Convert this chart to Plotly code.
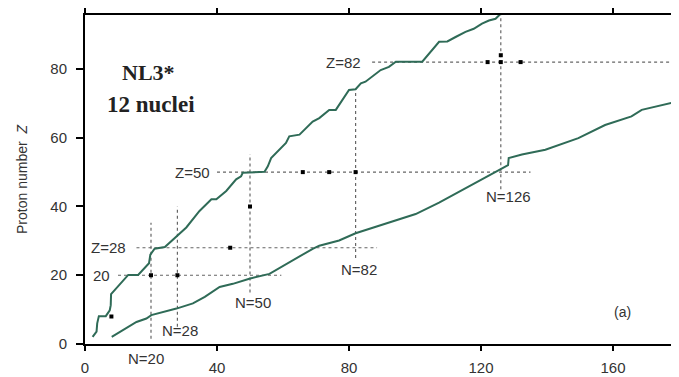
import plotly.graph_objects as go

# Upper drip line (proton side): neutron number N, proton number Z
upper_N = [2.3, 3.5, 3.7, 4.2, 6.3, 7.5, 7.8, 7.9, 13.1, 16.1, 19.4, 19.8, 21.1, 24.2, 30.7, 34.7,
           38.3, 39.8, 42.8, 45.8, 47.3, 47.8, 54.4, 55.4, 56.4, 60.9, 61.9, 65.0, 69.0, 71.0,
           74.0, 76.0, 80.0, 82.0, 83.6, 85.0, 89.6, 92.1, 94.2, 102.2, 107.3, 109.8, 112.3,
           115.3, 117.8, 120.3, 122.4, 124.4, 125.9]
upper_Z = [2.1, 3.6, 6.0, 8.1, 8.1, 9.8, 11.3, 14.5, 20.1, 20.1, 23.5, 26.0, 27.7, 28.2, 33.9, 38.7,
           42.1, 42.1, 44.5, 47.9, 48.8, 49.8, 50.1, 51.7, 54.1, 58.5, 60.4, 60.9, 64.7, 65.7,
           68.1, 68.1, 73.9, 74.1, 75.8, 76.3, 79.7, 80.6, 82.1, 82.1, 87.9, 88.0, 89.3,
           90.8, 91.7, 93.2, 94.1, 94.6, 96.0]

# Lower drip line (neutron side)
lower_N = [8.1, 15.6, 18.6, 20.1, 27.7, 32.7, 36.3, 40.8, 44.8, 49.8, 55.9, 61.9, 69.0, 71.0, 77.0,
           82.0, 100.2, 107.3, 117.3, 125.9, 127.4, 128.2, 128.4, 132.4, 139.5, 149.5, 157.6,
           165.6, 168.7, 179.2]
lower_Z = [2.1, 6.4, 7.4, 8.4, 10.3, 11.8, 13.7, 16.6, 17.5, 19.0, 20.4, 23.8, 27.7, 28.6, 30.1,
           32.2, 37.8, 41.1, 46.4, 50.8, 51.7, 52.0, 54.1, 55.1, 56.5, 59.9, 63.7,
           66.2, 68.1, 70.5]

# The 12 nuclei (N, Z)
nuc_N = [8, 20, 28, 44, 50, 66, 74, 82, 122, 126, 132, 126]
nuc_Z = [8, 20, 20, 28, 40, 50, 50, 50, 82, 82, 82, 84]

# Magic-number guide lines
vert_N = [20, 28, 50, 82, 126]
vert_Zlo = [1.5, 5, 15, 25, 45]
vert_Zhi = [35.3, 40, 55.2, 74.3, 96]
vert_labels = ["N=20", "N=28", "N=50", "N=82", "N=126"]
vert_label_N = [18.6, 28.8, 51, 83, 128.4]
vert_label_Z = [0, 3.8, 12, 21.7, 42.8]
vert_label_shift = [-14, 0, 0, 0, 0]

horiz_Z = [20, 28, 50, 82]
horiz_Nlo = [10, 15.6, 40, 87]
horiz_Nhi = [59.5, 88.5, 135, 180]
horiz_labels = ["20", "Z=28", "Z=50", "Z=82"]
horiz_label_N = [8.3, 13.0, 38.4, 84.2]

x_ticks = [0, 40, 80, 120, 160]
y_ticks = [0, 20, 40, 60, 80]

line_col = "#2f6b57"
guide_col = "#666666"
text_col = "#333333"
font_sans = "Liberation Sans, Arial, sans-serif"

fig = go.Figure()

for n, zlo, zhi in zip(vert_N, vert_Zlo, vert_Zhi):
    fig.add_trace(go.Scatter(x=[n, n], y=[zlo, zhi], mode="lines",
                             line=dict(color=guide_col, width=1.2, dash="dot"),
                             hoverinfo="skip", showlegend=False))
for z, nlo, nhi in zip(horiz_Z, horiz_Nlo, horiz_Nhi):
    fig.add_trace(go.Scatter(x=[nlo, nhi], y=[z, z], mode="lines",
                             line=dict(color=guide_col, width=1.2, dash="dot"),
                             hoverinfo="skip", showlegend=False))

fig.add_trace(go.Scatter(x=upper_N, y=upper_Z, mode="lines",
                         line=dict(color=line_col, width=2), showlegend=False))
fig.add_trace(go.Scatter(x=lower_N, y=lower_Z, mode="lines",
                         line=dict(color=line_col, width=2), showlegend=False))
fig.add_trace(go.Scatter(x=nuc_N, y=nuc_Z, mode="markers",
                         marker=dict(symbol="square", size=4, color="black"),
                         showlegend=False))

for lab, n, z, s in zip(vert_labels, vert_label_N, vert_label_Z, vert_label_shift):
    fig.add_annotation(x=n, y=z, yshift=s, text=lab, showarrow=False, xanchor="center",
                       yanchor="middle",
                       font=dict(family=font_sans, size=15, color=text_col))
for lab, n, z in zip(horiz_labels, horiz_label_N, horiz_Z):
    fig.add_annotation(x=n, y=z, text=lab, showarrow=False, xanchor="right", yanchor="middle",
                       font=dict(family=font_sans, size=15, color=text_col))

fig.add_annotation(x=19.3, y=79, text="<b>NL3*</b>", showarrow=False,
                   font=dict(family="Liberation Serif, Times New Roman, serif", size=22, color="#222222"))
fig.add_annotation(x=20, y=69.7, text="<b>12 nuclei</b>", showarrow=False,
                   font=dict(family="Liberation Serif, Times New Roman, serif", size=23, color="#222222"))
fig.add_annotation(x=163, y=9.2, text="(a)", showarrow=False,
                   font=dict(family=font_sans, size=14, color=text_col))

fig.update_layout(
    width=671, height=369,
    margin=dict(l=77, r=0, t=5, b=33),
    plot_bgcolor="white", paper_bgcolor="white",
    xaxis=dict(range=[0, 180], tickvals=x_ticks, ticks="outside", ticklen=5, tickwidth=1.5,
               tickcolor="black", showline=True, linewidth=2, linecolor="black",
               mirror="allticks", showgrid=False, zeroline=False, ticklabelstandoff=4,
               tickfont=dict(family=font_sans, size=15, color=text_col)),
    yaxis=dict(range=[0, 95.7], tickvals=y_ticks, ticks="outside", ticklen=7, tickwidth=1.5,
               tickcolor="black", showline=True, linewidth=2, linecolor="black",
               mirror=False, showgrid=False, zeroline=False, ticklabelstandoff=6,
               tickfont=dict(family=font_sans, size=15, color=text_col),
               title=dict(text="Proton number  <i>Z</i>", standoff=19,
                          font=dict(family=font_sans, size=14, color=text_col))),
)

fig.write_html("out.html")
